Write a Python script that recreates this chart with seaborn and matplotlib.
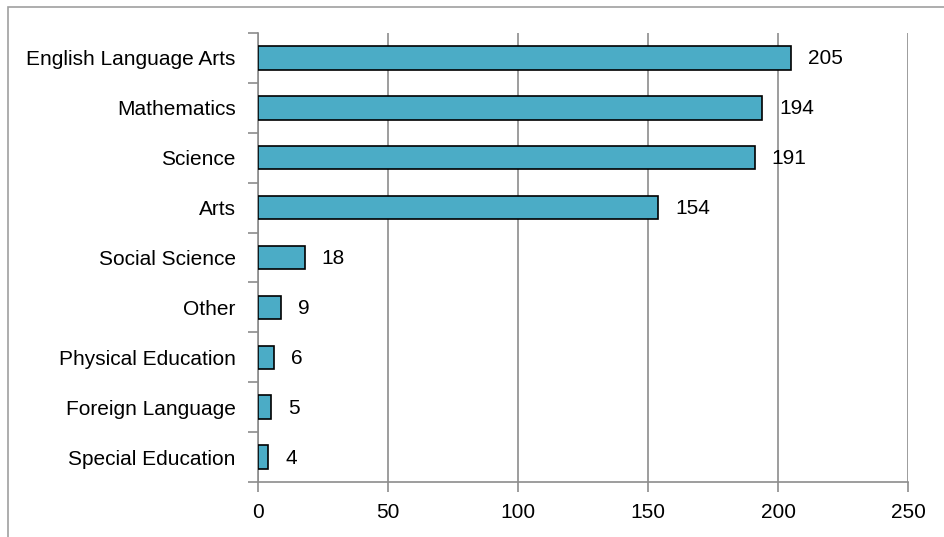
import matplotlib
matplotlib.use("Agg")
import matplotlib.pyplot as plt
import seaborn as sns
import pandas as pd
from matplotlib.patches import Rectangle
from matplotlib.ticker import FixedLocator

categories = ["English Language Arts", "Mathematics", "Science", "Arts",
              "Social Science", "Other", "Physical Education",
              "Foreign Language", "Special Education"]
values = [205, 194, 191, 154, 18, 9, 6, 5, 4]
xticks = [0, 50, 100, 150, 200, 250]

sns.set_theme(style="white")
plt.rcParams['font.family'] = ['Liberation Sans', 'DejaVu Sans']

df = pd.DataFrame({"cat": categories, "val": values})

fig = plt.figure(figsize=(9.45, 5.37), dpi=100)
ax = fig.add_axes([258/945, 1-482/537, 650/945, (482-33)/537])

sns.barplot(data=df, x="val", y="cat", orient="h", color="#4BACC6",
            saturation=1, edgecolor="black", linewidth=1.2, width=0.47, ax=ax, zorder=3)

FS = 15
ax.set_xlim(0, 250)
ax.set_ylim(len(categories)-0.5, -0.5)
ax.set_xticks(xticks)
ax.set_xticklabels([str(t) for t in xticks], fontsize=FS, color="black")
ax.set_xlabel("")
ax.set_ylabel("")
ax.tick_params(axis="y", which="major", length=0, pad=16, labelsize=FS, labelcolor="black")
ax.yaxis.set_minor_locator(FixedLocator([i - 0.5 for i in range(len(categories)+1)]))
ax.tick_params(axis="y", which="minor", length=7, width=1.2, color="#8c8c8c", left=True)
ax.tick_params(axis="x", which="major", length=7, width=1.2, color="#8c8c8c", pad=8, bottom=True)
ax.grid(axis="x", color="#8c8c8c", linewidth=1.2, zorder=0)
ax.grid(axis="y", visible=False)
for s in ["top", "right"]:
    ax.spines[s].set_visible(False)
for s in ["left", "bottom"]:
    ax.spines[s].set_color("#8c8c8c")
    ax.spines[s].set_linewidth(1.2)
ax.set_axisbelow(True)

for p, v in zip(ax.patches, values):
    ax.annotate(str(v), (p.get_width(), p.get_y() + p.get_height()/2),
                xytext=(17, -1), textcoords="offset pixels",
                ha="left", va="center", fontsize=FS, color="black")

fig.patches.append(Rectangle((8/945, -0.1), 1.0, 1 - 7/537 + 0.1,
                             transform=fig.transFigure, fill=False,
                             edgecolor="#a0a0a0", linewidth=1.2))

fig.savefig("out.png", dpi=100)
